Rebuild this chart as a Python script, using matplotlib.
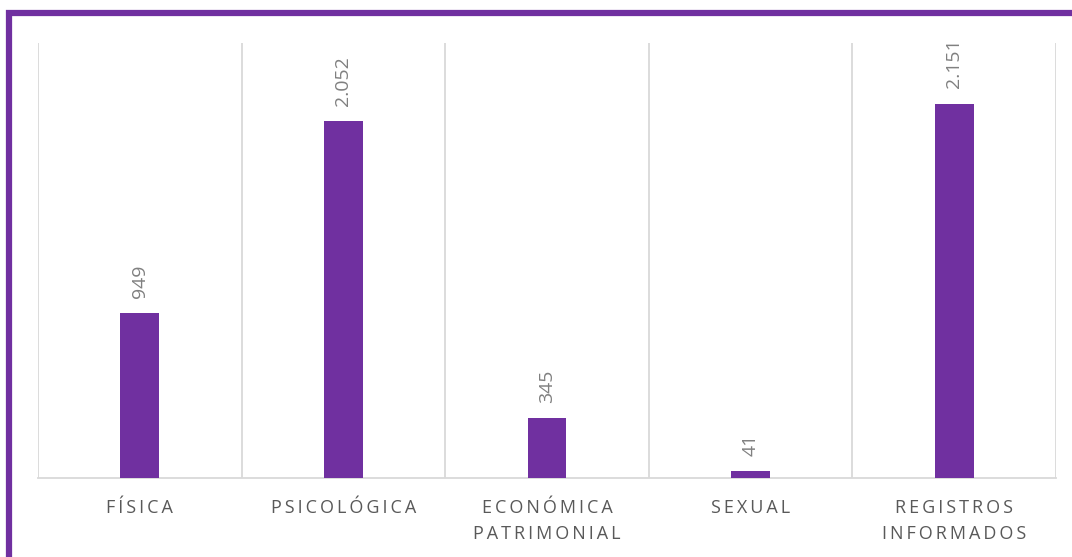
import matplotlib.pyplot as plt
from matplotlib.patches import Rectangle

categories = ["FÍSICA", "PSICOLÓGICA", "ECONÓMICA\nPATRIMONIAL", "SEXUAL", "REGISTROS\nINFORMADOS"]
values = [949, 2052, 345, 41, 2151]
value_labels = ["949", "2.052", "345", "41", "2.151"]

purple = "#7030A0"
grid_gray = "#d9d9d9"

plt.rcParams['font.family'] = ['Open Sans', 'DejaVu Sans']


def spaced(text):
    # widen the letter spacing like the original
    return "\n".join("\u2009".join(line) for line in text.split("\n"))


fig = plt.figure(figsize=(10.72, 5.57), dpi=100)
ax = fig.add_axes([38 / 1072, 79 / 557, 1018 / 1072, 435 / 557])

x = list(range(len(categories)))
ax.bar(x, values, width=0.19, color=purple, zorder=3)

for xi, v, lab in zip(x, values, value_labels):
    ax.annotate(lab, (xi, v), xytext=(0, 11), textcoords="offset points",
                rotation=90, ha="center", va="bottom", fontsize=14, color="#808080")

for b in [i - 0.5 for i in range(len(categories) + 1)]:
    ax.axvline(b, color=grid_gray, lw=1.3, zorder=1)

ax.set_xlim(-0.5, len(categories) - 0.5)
ax.set_ylim(0, 2500)
ax.set_yticks([])
ax.set_xticks(x)
ax.set_xticklabels([spaced(c) for c in categories], fontsize=13, color="#595959",
                   linespacing=1.6)
ax.tick_params(axis="x", length=0, pad=15)
for s in ["top", "left", "right"]:
    ax.spines[s].set_visible(False)
ax.spines["bottom"].set_color(grid_gray)
ax.spines["bottom"].set_linewidth(1.3)

# purple frame, cut off on the right and bottom
fig.patches.append(Rectangle((9 / 1072, -0.1), 1.2, (557 - 13) / 557 + 0.1,
                             transform=fig.transFigure, fill=False,
                             edgecolor=purple, lw=4.5, clip_on=False))

fig.savefig("out.png", dpi=100)
